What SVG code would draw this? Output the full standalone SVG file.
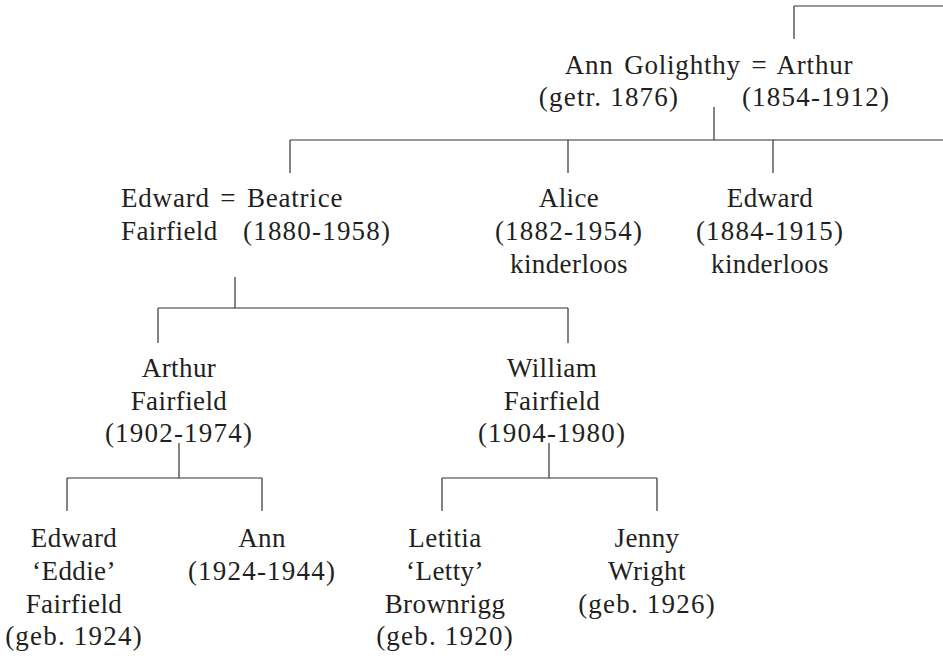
<svg xmlns="http://www.w3.org/2000/svg" width="943" height="656" viewBox="0 0 943 656">
<style>
  text { font-family: "Liberation Serif", "Times New Roman", serif; font-size: 27px; fill: #231f20; letter-spacing: 0.4px; }
  .c { text-anchor: middle; }
  .d { letter-spacing: 1.2px; }
  .eq { word-spacing: 3px; letter-spacing: 0.8px; }
  .conn path { fill: none; stroke: #333; stroke-width: 1.2; }
</style>
<rect width="943" height="656" fill="#fff"/>
<g class="conn" id="connectors">
  <path d="M794,6 H943 M794,6 V39"/>
  <path d="M714,107 V140 M290,140 H943 M290,140 V173 M568,140 V173 M773,140 V173"/>
  <path d="M235,277 V308 M158,308 H568 M158,308 V343 M568,308 V343"/>
  <path d="M179,443 V478 M67,478 H262 M67,478 V511 M262,478 V511"/>
  <path d="M549,443 V478 M442,478 H657 M442,478 V511 M657,478 V511"/>
</g>
<g id="ann-arthur">
  <text class="c eq" x="709" y="74">Ann Golighthy = Arthur</text>
  <text class="c d" x="609" y="106">(getr. 1876)</text>
  <text class="c d" x="816" y="106">(1854-1912)</text>
</g>
<g id="edward-beatrice">
  <text class="eq" x="121" y="207">Edward = Beatrice</text>
  <text x="121" y="240">Fairfield</text>
  <text class="d" x="243" y="240">(1880-1958)</text>
</g>
<g id="alice">
  <text class="c" x="569" y="207">Alice</text>
  <text class="c d" x="569" y="240">(1882-1954)</text>
  <text class="c" x="569" y="273">kinderloos</text>
</g>
<g id="edward2">
  <text class="c" x="770" y="207">Edward</text>
  <text class="c d" x="770" y="240">(1884-1915)</text>
  <text class="c" x="770" y="273">kinderloos</text>
</g>
<g id="arthur-fairfield">
  <text class="c" x="179" y="377">Arthur</text>
  <text class="c" x="179" y="410">Fairfield</text>
  <text class="c d" x="179" y="442">(1902-1974)</text>
</g>
<g id="william-fairfield">
  <text class="c" x="552" y="377">William</text>
  <text class="c" x="552" y="410">Fairfield</text>
  <text class="c d" x="552" y="442">(1904-1980)</text>
</g>
<g id="eddie">
  <text class="c" x="74" y="547">Edward</text>
  <text class="c" x="74" y="580">‘Eddie’</text>
  <text class="c" x="74" y="613">Fairfield</text>
  <text class="c d" x="74" y="645">(geb. 1924)</text>
</g>
<g id="ann">
  <text class="c" x="262" y="547">Ann</text>
  <text class="c d" x="262" y="580">(1924-1944)</text>
</g>
<g id="letitia">
  <text class="c" x="445" y="547">Letitia</text>
  <text class="c" x="445" y="580">‘Letty’</text>
  <text class="c" x="445" y="613">Brownrigg</text>
  <text class="c d" x="445" y="645">(geb. 1920)</text>
</g>
<g id="jenny">
  <text class="c" x="647" y="547">Jenny</text>
  <text class="c" x="647" y="580">Wright</text>
  <text class="c d" x="647" y="613">(geb. 1926)</text>
</g>
</svg>
